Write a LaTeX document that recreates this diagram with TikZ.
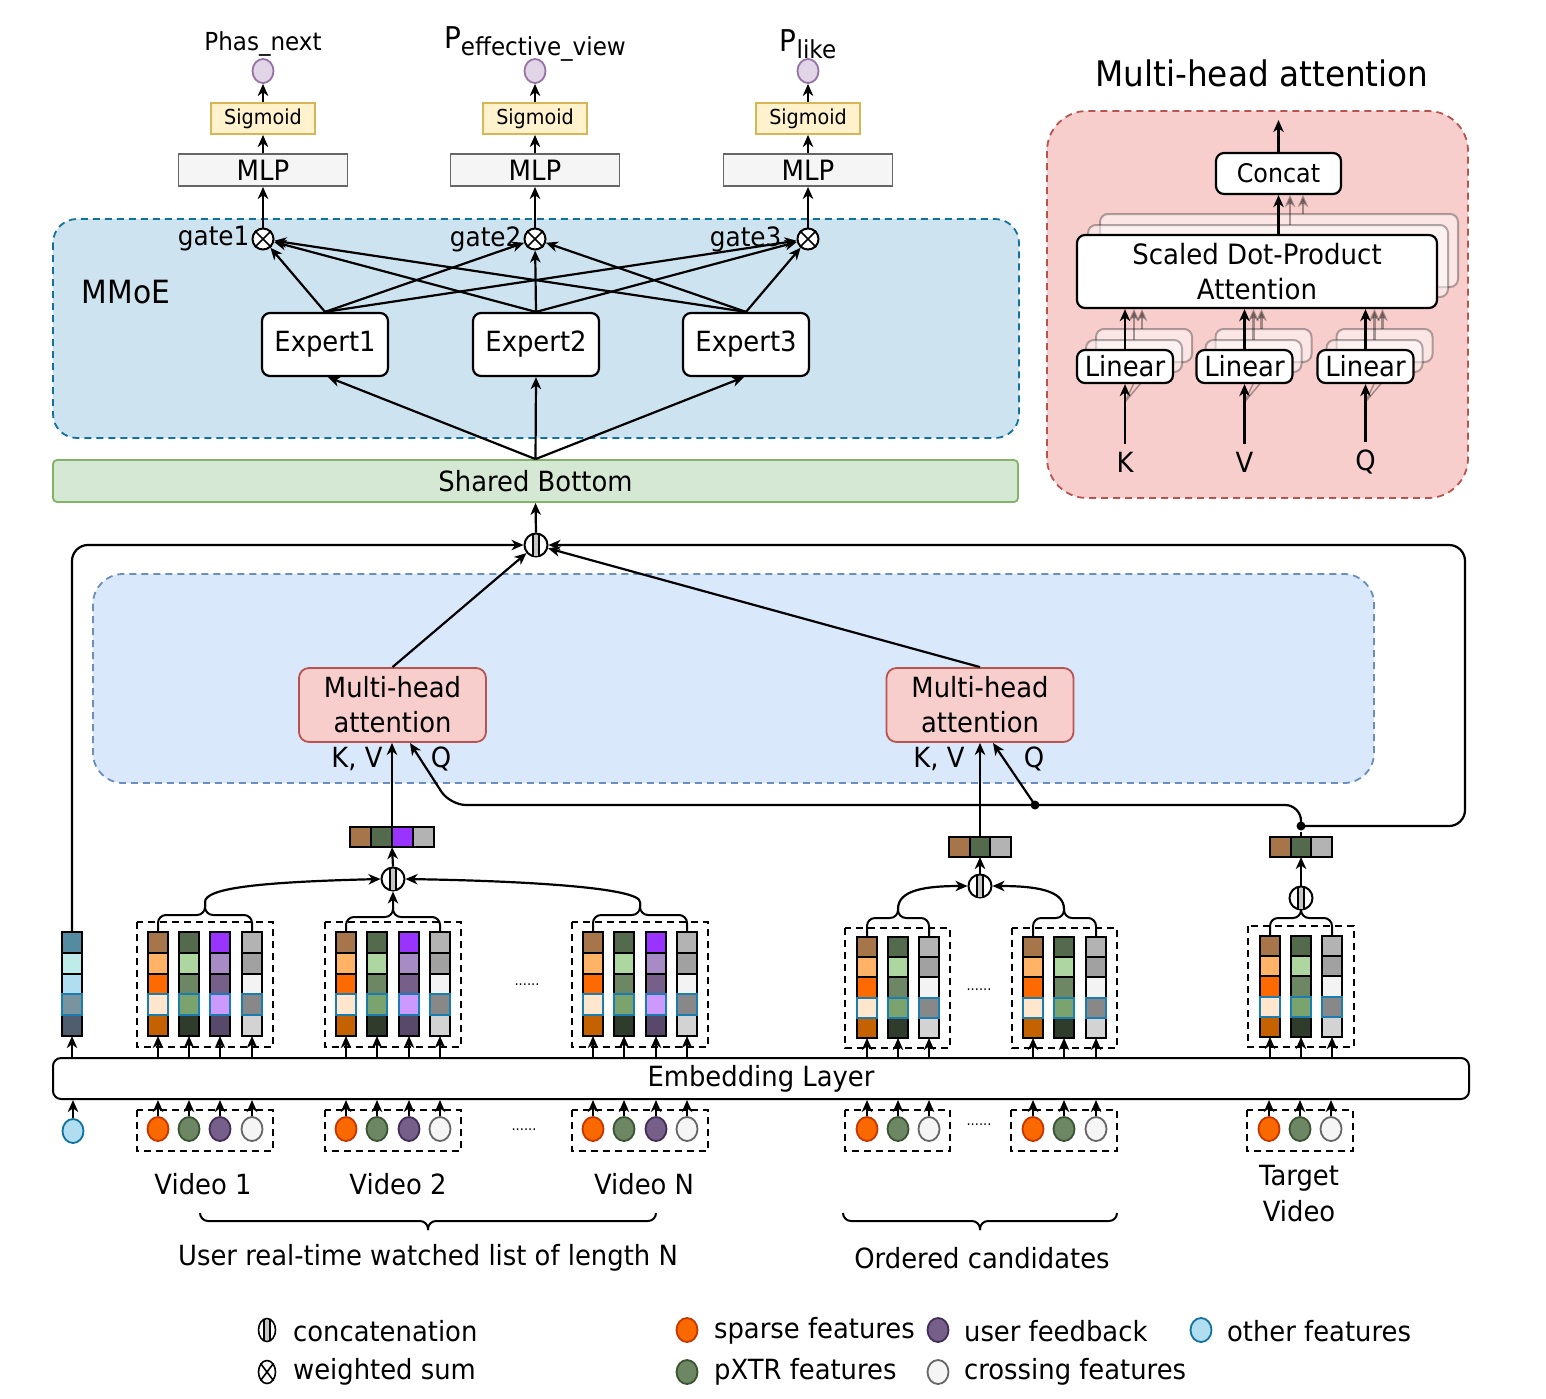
\documentclass[tikz,border=0pt]{standalone}
\usepackage{fontspec}
\setmainfont{DejaVu Sans}[FakeStretch=0.93]
\usetikzlibrary{arrows.meta,shapes.geometric,calc}
\definecolor{A1}{HTML}{A6754A}\definecolor{A2}{HTML}{FFB366}\definecolor{A3}{HTML}{FF6A00}\definecolor{A4}{HTML}{FFE6CC}\definecolor{A5}{HTML}{C46200}
\definecolor{G1}{HTML}{536B4C}\definecolor{G2}{HTML}{ADD6A0}\definecolor{G3}{HTML}{6D8764}\definecolor{G4}{HTML}{7BA36D}\definecolor{G5}{HTML}{2F3B2B}
\definecolor{P1}{HTML}{9933FF}\definecolor{P2}{HTML}{A78BC5}\definecolor{P3}{HTML}{76608A}\definecolor{P4}{HTML}{CC99FF}\definecolor{P5}{HTML}{584869}
\definecolor{W1}{HTML}{B3B3B3}\definecolor{W2}{HTML}{A1A1A1}\definecolor{W3}{HTML}{F3F3F3}\definecolor{W4}{HTML}{888888}\definecolor{W5}{HTML}{D3D3D3}
\definecolor{O1}{HTML}{558BA1}\definecolor{O2}{HTML}{BEECEA}\definecolor{O3}{HTML}{B1DDF0}\definecolor{O4}{HTML}{7A949F}\definecolor{O5}{HTML}{4F5D6E}
\definecolor{cellblue}{HTML}{1A7DB0}
\definecolor{spF}{HTML}{FA6800}\definecolor{spD}{HTML}{C73500}
\definecolor{pxF}{HTML}{6D8764}\definecolor{pxD}{HTML}{3A5431}
\definecolor{fbF}{HTML}{76608A}\definecolor{fbD}{HTML}{432D57}
\definecolor{crF}{HTML}{F5F5F5}\definecolor{crD}{HTML}{666666}
\definecolor{otF}{HTML}{B1DDF0}\definecolor{otD}{HTML}{10739E}
\definecolor{ovF}{HTML}{E1D5E7}\definecolor{ovD}{HTML}{9673A6}
\definecolor{sgF}{HTML}{FFF2CC}\definecolor{sgD}{HTML}{D6B656}
\definecolor{mlF}{HTML}{F5F5F5}\definecolor{mlD}{HTML}{666666}
\definecolor{mmF}{HTML}{CDE4F0}\definecolor{mmD}{HTML}{10739E}
\definecolor{blF}{HTML}{DAE8FC}\definecolor{blD}{HTML}{6C8EBF}
\definecolor{rdF}{HTML}{F8CECC}\definecolor{rdD}{HTML}{B85450}
\definecolor{sbF}{HTML}{D5E8D4}\definecolor{sbD}{HTML}{82B366}
\newcommand\fA{\fontsize{13.9pt}{17.5pt}\selectfont}
\newcommand\vcol[5]{%
  \foreach \k in {1,2,3,5}{%
    \node[cell, minimum height={#4*0.5pt}, fill=#5\k] (#1-\k) at (#2,{#3+(\k-0.5)*#4}) {};
  }%
  \node[cell, minimum height={#4*0.5pt}, fill=#54, draw=cellblue] (#1-4) at (#2,{#3+3.5*#4}) {};
}
\newcommand\catmark[2]{%
  \fill[gray!45] ($(#1.center)+(-3,-#2)$) rectangle ($(#1.center)+(3,#2)$);
  \draw[line width=0.8pt] ($(#1.center)+(-3,-#2)$) -- ($(#1.center)+(-3,#2)$);
  \draw[line width=0.8pt] ($(#1.center)+(3,-#2)$) -- ($(#1.center)+(3,#2)$);
}
\newcommand\crossmark[1]{%
  \draw[line width=0.8pt] (#1.north west) -- (#1.south east) (#1.north east) -- (#1.south west);
}
\begin{document}
\begin{tikzpicture}[x=0.5pt,y=-0.5pt,line width=1.1pt,font=\fA,
  arr/.style={-{Stealth[length=6pt,width=5.2pt,inset=1.8pt]}},
  farr/.style={arr,opacity=0.35},
  cell/.style={draw,line width=1pt,minimum width=10pt,inner sep=0pt,outer sep=0pt},
  ell/.style={ellipse,draw,line width=0.9pt,minimum width=10.5pt,minimum height=12pt,inner sep=0pt},
  dbox/.style={draw,dash pattern=on 3.5pt off 2.5pt,line width=1pt},
  rbox/.style={draw,rounded corners=4pt,fill=white,align=center,inner sep=0pt},
  op/.style={circle,draw,fill=white,minimum size=11.5pt,inner sep=0pt,line width=1pt},
  shd/.style={draw=black,draw opacity=0.3,fill=white,fill opacity=0.5,rounded corners=4pt,line width=1pt},
  fsp/.style={fill=spF,draw=spD}, fpx/.style={fill=pxF,draw=pxD}, ffb/.style={fill=fbF,draw=fbD},
  fcr/.style={fill=crF,draw=crD}, fot/.style={fill=otF,draw=otD},
  brc/.style={rounded corners=4pt,line width=1pt},
]
\useasboundingbox[fill=white] (0,0) rectangle (1546,1398);

% ---------- backgrounds ----------
\draw[draw=mmD, fill=mmF, dash pattern=on 3.5pt off 2.5pt, line width=0.9pt, rounded corners=12pt] (53,219) rectangle (1019,438);
\draw[draw=blD, fill=blF, dash pattern=on 3.5pt off 2.5pt, line width=0.9pt, rounded corners=15pt] (93,574) rectangle (1374,783);
\draw[draw=rdD, fill=rdF, dash pattern=on 3.5pt off 2.5pt, line width=0.9pt, rounded corners=20pt] (1047,111) rectangle (1468,498);

% ---------- outputs ----------
\node (t1) at (263,44) {\fontsize{12.4pt}{14pt}\selectfont Phas\_next};
\node (t2) at (535,44) {\fontsize{15pt}{18pt}\selectfont P\raisebox{-0.45ex}{\fontsize{12.4pt}{14pt}\selectfont effective\_view}};
\node (t3) at (808,44) {\fontsize{15pt}{18pt}\selectfont P\raisebox{-0.45ex}{\fontsize{12.4pt}{14pt}\selectfont like}};
\foreach \i/\x in {1/263,2/535,3/808}{
  \node[ell, fill=ovF, draw=ovD] (o\i) at (\x,71) {};
  \node[draw=sgD, fill=sgF, line width=0.9pt, minimum width=52pt, minimum height=15.5pt, inner sep=0pt, font={\fontsize{10.3pt}{12pt}\selectfont}] (s\i) at (\x,118.5) {Sigmoid};
  \node[draw=mlD, fill=mlF, line width=0.9pt, minimum width=84.5pt, minimum height=16pt, inner sep=0pt, font={\fontsize{14pt}{16pt}\selectfont}] (m\i) at (\x,170) {MLP};
  \node[op, minimum size=10.5pt] (g\i) at (\x,239) {};
  \crossmark{g\i}
  \draw[arr] (s\i.north) -- (o\i.south);
  \draw[arr] (m\i.north) -- (s\i.south);
  \draw[arr] (g\i.north) -- (m\i.south);
}
\node[anchor=east, inner sep=0pt, font={\fontsize{13.3pt}{15pt}\selectfont}] (gl1) at ($(g1.west)+(-1,0)$) {gate1};
\node[anchor=east, inner sep=0pt, font={\fontsize{13.3pt}{15pt}\selectfont}] (gl2) at ($(g2.west)+(-1,0)$) {gate2};
\node[anchor=east, inner sep=0pt, font={\fontsize{13.3pt}{15pt}\selectfont}] (gl3) at ($(g3.west)+(-14,0)$) {gate3};

% ---------- MMoE ----------
\node[font={\fontsize{16pt}{19pt}\selectfont}] (mmoe) at (126,292) {MMoE};
\node[rbox, minimum width=63pt, minimum height=31.5pt] (e1) at (325,344.5) {Expert1};
\node[rbox, minimum width=63pt, minimum height=31.5pt] (e2) at (536,344.5) {Expert2};
\node[rbox, minimum width=63pt, minimum height=31.5pt] (e3) at (746,344.5) {Expert3};
\foreach \e in {e1,e2,e3}{\foreach \g in {g1,g2,g3}{\draw[arr] (\e.north) -- (\g);}}

\node[draw=sbD, fill=sbF, line width=0.9pt, rounded corners=2pt, minimum width=482.5pt, minimum height=21pt, inner sep=0pt] (sb) at (535.5,481) {Shared Bottom};
\draw[arr] (sb.north) -- ($(e1.south)+(3,0)$);
\draw[arr] (sb.north) -- (e2.south);
\draw[arr] (sb.north) -- ($(e3.south)+(-2,0)$);

\node[op] (cT) at (536,545) {}; \catmark{cT}{10.5}
\draw[arr] (cT.north) -- (sb.south);

% ---------- attention blocks ----------
\node[draw=rdD, fill=rdF, line width=0.9pt, rounded corners=5pt, minimum width=93.5pt, minimum height=37pt, align=center, inner sep=0pt] (mha1) at (392.5,705) {Multi-head\\attention};
\node[draw=rdD, fill=rdF, line width=0.9pt, rounded corners=5pt, minimum width=93.5pt, minimum height=37pt, align=center, inner sep=0pt] (mha2) at (980,705) {Multi-head\\attention};
\node (kv1) at (357,759) {K, V};
\node (q1l) at (441,759) {Q};
\node (kv2) at (939,759) {K, V};
\node (q2l) at (1034,759) {Q};
\draw[arr] (mha1.north) -- (cT);
\draw[arr] (mha2.north) -- (cT);
\coordinate (q1) at (410,743);
\coordinate (q2) at (993,743);

% ---------- stacks ----------
\vcol{oth}{72}{932}{20.8}{O}
\foreach \g/\xa/\xb/\xc/\xd in {v1/158/189/220/252, v2/346/377/409/440, vn/593/624/656/687}{
  \vcol{\g a}{\xa}{932}{20.8}{A}
  \vcol{\g b}{\xb}{932}{20.8}{G}
  \vcol{\g c}{\xc}{932}{20.8}{P}
  \vcol{\g d}{\xd}{932}{20.8}{W}
}
\foreach \g/\xa/\xb/\xc in {ca/867/898/929, cb/1033/1064/1096}{
  \vcol{\g a}{\xa}{937}{20.2}{A}
  \vcol{\g b}{\xb}{937}{20.2}{G}
  \vcol{\g c}{\xc}{937}{20.2}{W}
}
\vcol{tga}{1270}{936}{20.2}{A}
\vcol{tgb}{1301}{936}{20.2}{G}
\vcol{tgc}{1332}{936}{20.2}{W}

\draw[dbox] (137,922) rectangle (273,1047);
\draw[dbox] (325,922) rectangle (461,1047);
\draw[dbox] (572,922) rectangle (708,1047);
\draw[dbox] (845,928) rectangle (950,1048);
\draw[dbox] (1012,928) rectangle (1117,1048);
\draw[dbox] (1248,926) rectangle (1354,1047);
\node[font={\fontsize{7pt}{8pt}\selectfont}] (dots1) at (527,985) {......};
\node[font={\fontsize{7pt}{8pt}\selectfont}] (dots2) at (979,990) {......};

% ---------- embedding ----------
\node[draw, line width=1pt, rounded corners=4pt, fill=white, minimum width=708pt, minimum height=20.5pt, inner sep=0pt] (emb) at (761,1078.5) {Embedding Layer};
\foreach \c in {oth,v1a,v1b,v1c,v1d,v2a,v2b,v2c,v2d,vna,vnb,vnc,vnd,caa,cab,cac,cba,cbb,cbc,tga,tgb,tgc}{
  \draw[arr] (\c-5.south |- emb.north) -- (\c-5.south);
}

% ---------- inputs ----------
\node[ell, fot] (ioth) at (73,1131) {};
\draw[arr] (ioth.north) -- (ioth.north |- emb.south);
\foreach \n/\x/\t in {v1a/158/fsp, v1b/189/fpx, v1c/220/ffb, v1d/252/fcr,
                      v2a/346/fsp, v2b/377/fpx, v2c/409/ffb, v2d/440/fcr,
                      vna/593/fsp, vnb/624/fpx, vnc/656/ffb, vnd/687/fcr,
                      caa/867/fsp, cab/898/fpx, cac/929/fcr,
                      cba/1033/fsp, cbb/1064/fpx, cbc/1096/fcr,
                      tga/1269/fsp, tgb/1300/fpx, tgc/1331/fcr}{
  \node[ell, \t] (i\n) at (\x,1129) {};
  \draw[arr] (i\n.north) -- (i\n.north |- emb.south);
}
\draw[dbox] (137,1110) rectangle (273,1151);
\draw[dbox] (325,1110) rectangle (461,1151);
\draw[dbox] (572,1110) rectangle (708,1151);
\draw[dbox] (845,1110) rectangle (950,1151);
\draw[dbox] (1011,1110) rectangle (1117,1151);
\draw[dbox] (1247,1110) rectangle (1353,1151);
\node[font={\fontsize{7pt}{8pt}\selectfont}] (dots3) at (524,1130) {......};
\node[font={\fontsize{7pt}{8pt}\selectfont}] (dots4) at (979,1125) {......};

% ---------- concatenations of behaviour sequence ----------
\node[op] (c1) at (393,879) {}; \catmark{c1}{10.5}
\node[op] (c2) at (980,886) {}; \catmark{c2}{10.5}
\node[op] (c3) at (1301,898) {}; \catmark{c3}{10.5}

\draw[brc] (v1a-1.north) |- (205,915) -- (205,902);
\draw[brc] (v1d-1.north) |- (205,915) -- (205,902);
\draw[brc] (vna-1.north) |- (640,915) -- (640,902);
\draw[brc] (vnd-1.north) |- (640,915) -- (640,902);
\draw[brc] (v2d-1.north) |- (393,917) -- (393,908);
\draw[brc,arr] (v2a-1.north) |- (393,917) -- (c1.south);
\coordinate (bv1) at (205,902);
\coordinate (bvn) at (640,902);
\draw[arr] (bv1) .. controls (205,888) and (260,882) .. (c1.west);
\draw[arr] (bvn) .. controls (640,888) and (530,881) .. (c1.east);

\draw[brc] (caa-1.north) |- (898,918) -- (898,909);
\draw[brc] (cac-1.north) |- (898,918) -- (898,909);
\draw[brc] (cba-1.north) |- (1064,918) -- (1064,909);
\draw[brc] (cbc-1.north) |- (1064,918) -- (1064,909);
\coordinate (bca) at (898,909);
\coordinate (bcb) at (1064,909);
\draw[arr] (bca) .. controls (898,890) and (925,886) .. (c2.west);
\draw[arr] (bcb) .. controls (1064,890) and (1035,886) .. (c2.east);

\draw[brc] (tga-1.north) |- (1301,918) -- (c3.south);
\draw[brc] (tgc-1.north) |- (1301,918) -- (c3.south);

% horizontal vectors
\foreach \k/\c/\x in {1/A1/360.5,2/G1/381.5,3/P1/402.5,4/W1/423.5}{
  \node[cell, minimum width=10.5pt, minimum height=10pt, fill=\c] (h1-\k) at (\x,837) {};}
\foreach \k/\c/\x in {1/A1/959.3,2/G1/980,3/W1/1000.7}{
  \node[cell, minimum width=10.35pt, minimum height=10pt, fill=\c] (h2-\k) at (\x,847) {};}
\foreach \k/\c/\x in {1/A1/1280.3,2/G1/1301,3/W1/1321.7}{
  \node[cell, minimum width=10.35pt, minimum height=10pt, fill=\c] (h3-\k) at (\x,847) {};}

\draw[arr] (c1.north) -- (h1-2.south east);
\draw[arr] (c2.north) -- (h2-2.south);
\draw[arr] (c3.north) -- (h3-2.south);
\draw[arr] (h1-2.north east) -- (h1-2.north east |- mha1.south);
\draw[arr] (h2-2.north) -- (h2-2.north |- mha2.south);

\node[circle, fill, inner sep=0pt, minimum size=4.5pt] (d1) at (1035,805) {};
\node[circle, fill, inner sep=0pt, minimum size=4.5pt] (d2) at (1301,826) {};
\draw (h3-2.north) -- (d2);
\draw[arr, rounded corners=8pt] (d2.center) -- (1301,805) -- (450,805) -- (q1);
\draw[arr] (d1.center) -- (q2);
\draw[arr, rounded corners=8pt] (d2.center) -- (1465,826) -- (1465,545) -- (cT.east);
\draw[arr, rounded corners=8pt] (oth-1.north) -- (72,545) -- (cT.west);

% ---------- labels bottom ----------
\node (lv1) at (203,1184) {Video 1};
\node (lv2) at (398,1184) {Video 2};
\node (lvn) at (644,1184) {Video N};
\node[align=center, font={\fontsize{13.9pt}{18pt}\selectfont}] (ltv) at (1299,1194) {Target\\Video};
\draw[brc] (200,1213) |- (428,1221) -- (428,1230);
\draw[brc] (656,1213) |- (428,1221) -- (428,1230);
\draw[brc] (843,1213) |- (980,1221) -- (980,1230);
\draw[brc] (1117,1213) |- (980,1221) -- (980,1230);
\node (lul) at (428,1258) {User real-time watched list of length N};
\node (loc) at (982,1258) {Ordered candidates};

% ---------- legend ----------
\node[ellipse, draw, line width=0.8pt, minimum width=8.5pt, minimum height=11.5pt, inner sep=0pt] (lg1) at (267,1330) {}; \catmark{lg1}{10}
\node[ellipse, draw, line width=0.8pt, minimum width=8.5pt, minimum height=11.5pt, inner sep=0pt] (lg2) at (267,1372) {}; \crossmark{lg2}
\node[anchor=west, inner sep=0pt] (lt1) at (292,1331) {concatenation};
\node[anchor=west, inner sep=0pt] (lt2) at (292,1372) {weighted sum};
\node[ell, fsp] (lc1) at (687,1330) {};
\node[ell, fpx] (lc2) at (687,1372) {};
\node[ell, ffb] (lc3) at (938,1330) {};
\node[ell, fcr] (lc4) at (938,1372) {};
\node[ell, fot] (lc5) at (1201,1330) {};
\node[anchor=west, inner sep=0pt] (lt3) at (713,1331) {sparse features};
\node[anchor=west, inner sep=0pt] (lt4) at (713,1372) {pXTR features};
\node[anchor=west, inner sep=0pt] (lt5) at (963,1331) {user feedback};
\node[anchor=west, inner sep=0pt] (lt6) at (963,1372) {crossing features};
\node[anchor=west, inner sep=0pt] (lt7) at (1226,1331) {other features};

% ---------- multi-head attention detail ----------
\node[font={\fontsize{17.6pt}{21pt}\selectfont}] (title) at (1262,73) {Multi-head attention};
\node[rbox, minimum width=62.5pt, minimum height=20.5pt, font={\fontsize{12.8pt}{15pt}\selectfont}] (concat) at (1278.5,173.5) {Concat};
\coordinate (cout) at (1278.5,120);
\draw[arr] (concat.north) -- (cout);
\draw[shd] (1100,214) rectangle (1458,287);
\draw[shd] (1088,225) rectangle (1448,297);
\node[rbox, minimum width=180pt, minimum height=36.5pt, font={\fontsize{14pt}{17.5pt}\selectfont}] (sdpa) at (1257,271.5) {Scaled Dot-Product\\Attention};
\draw[arr] (concat.south |- sdpa.north) -- (concat.south);
\draw[farr] (1290,225) -- (1290,195);
\draw[farr] (1303,214) -- (1303,195);
\foreach \i/\cx/\lab in {1/1125/K,2/1244.5/V,3/1365.5/Q}{
  \draw[shd] ({\cx-48+19},329) rectangle ({\cx+48+19},362);
  \draw[shd] ({\cx-48+9},340) rectangle ({\cx+48+9},372);
  \node[rbox, minimum width=48pt, minimum height=16.5pt] (lin\i) at (\cx,366.5) {Linear};
  \draw[arr] (lin\i.north) -- (lin\i.north |- sdpa.south);
  \draw[farr] ({\cx+9},340) -- ({\cx+9},309);
  \draw[farr] ({\cx+17},329) -- ({\cx+17},309);
  \node (in\i) at (\cx,462) {\lab};
  \draw[arr] (in\i.north) -- (lin\i.south);
  \draw[opacity=0.35, line width=0.7pt] (\cx,402) -- ({\cx+9},383) (\cx,402) -- ({\cx+16},383);
}
\end{tikzpicture}
\end{document}
